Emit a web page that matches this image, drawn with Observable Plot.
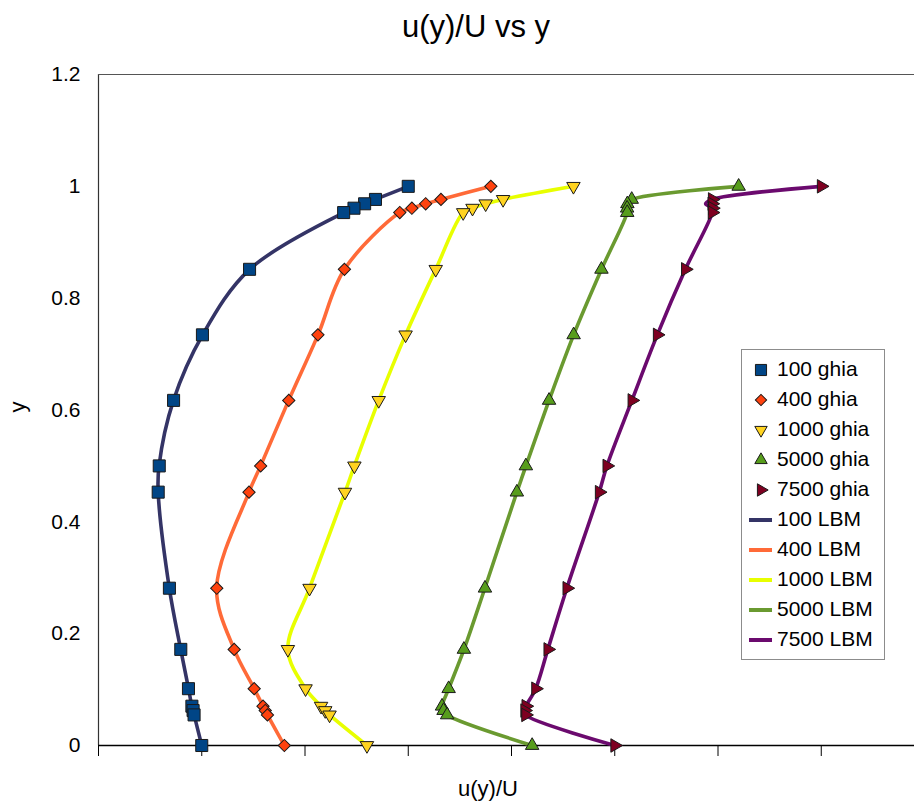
<!DOCTYPE html>
<html><head><meta charset="utf-8">
<script src="https://cdn.jsdelivr.net/npm/d3@7"></script>
<script src="https://cdn.jsdelivr.net/npm/@observablehq/plot@0.6"></script>
<style>
body{margin:0;background:#fff;font-family:"Liberation Sans",Arial,sans-serif;}
#wrap{position:relative;width:914px;height:804px;overflow:hidden;background:#fff;}
#wrap svg.plot{position:absolute;left:0;top:0;}
.lab{position:absolute;color:#000;white-space:nowrap;}
#legend{position:absolute;left:741px;top:349px;width:144px;height:311px;border:1px solid #8c8c8c;background:#fff;box-sizing:border-box;}
</style></head><body><div id="wrap"></div>
<script>
// y positions (shared)
const yVals = [1, 0.9766, 0.9688, 0.9609, 0.9531, 0.8516, 0.7344, 0.6172, 0.5, 0.4531, 0.2813, 0.1719, 0.1016, 0.0703, 0.0625, 0.0547, 0];
// plotted u(y)/U values (as drawn, each series shifted on the chart)
const ghia100  = [1, 0.84123, 0.78871, 0.73722, 0.68717, 0.23151, 0.00332, -0.13641, -0.20581, -0.21090, -0.15662, -0.10150, -0.06434, -0.04775, -0.04192, -0.03717, 0];
const ghia400  = [1.4, 1.15837, 1.08439, 1.01756, 0.95892, 0.69093, 0.56256, 0.42135, 0.28523, 0.22881, 0.07274, 0.15701, 0.25388, 0.29662, 0.30734, 0.31814, 0.4];
const ghia1000 = [1.8, 1.45928, 1.37492, 1.31117, 1.26604, 1.13304, 0.98719, 0.85702, 0.73920, 0.69352, 0.52195, 0.41711, 0.50270, 0.57780, 0.59804, 0.61891, 0.8];
const ghia5000 = [2.6, 2.08223, 2.06120, 2.05992, 2.06036, 1.93556, 1.80087, 1.68183, 1.56961, 1.52596, 1.37145, 1.26950, 1.19565, 1.16357, 1.17099, 1.18835, 1.6];
const ghia7500 = [3.0, 2.47244, 2.47048, 2.47323, 2.47167, 2.34228, 2.20591, 2.08342, 1.96200, 1.92497, 1.76824, 1.67607, 1.61676, 1.56975, 1.56410, 1.56846, 2.0];
const lbm100   = [1, 0.84, 0.79, 0.74, 0.69, 0.232, 0.004, -0.137, -0.207, -0.211, -0.157, -0.102, -0.064, -0.048, -0.042, -0.037, 0];
const lbm400   = [1.4, 1.158, 1.084, 1.018, 0.959, 0.691, 0.563, 0.421, 0.285, 0.229, 0.072, 0.157, 0.254, 0.297, 0.307, 0.318, 0.4];
const lbm1000  = [1.8, 1.459, 1.375, 1.311, 1.266, 1.133, 0.987, 0.857, 0.739, 0.694, 0.522, 0.417, 0.503, 0.578, 0.598, 0.619, 0.8];
const lbm5000  = [2.6, 2.082, 2.061, 2.06, 2.06, 1.936, 1.801, 1.682, 1.57, 1.526, 1.371, 1.27, 1.196, 1.164, 1.171, 1.188, 1.6];
const lbm7500  = [3.0, 2.472, 2.44, 2.47, 2.472, 2.342, 2.206, 2.083, 1.962, 1.925, 1.768, 1.676, 1.617, 1.57, 1.564, 1.568, 2.0];
const ghiaNames = ["100 ghia", "400 ghia", "1000 ghia", "5000 ghia", "7500 ghia"];
const lbmNames  = ["100 LBM", "400 LBM", "1000 LBM", "5000 LBM", "7500 LBM"];
const yTicks = [0, 0.2, 0.4, 0.6, 0.8, 1, 1.2];
const xTicks = [-0.5, 0, 0.5, 1, 1.5, 2, 2.5, 3, 3.5];

// styles
const ghiaFill = ["#004586", "#ff420e", "#ffd320", "#579d1c", "#7e0021"];
const ghiaSym  = [{symbol:"square", r:6.8, rotate:0}, {symbol:"square", r:4.9, rotate:45}, {symbol:"triangle", r:5, rotate:180}, {symbol:"triangle", r:5, rotate:0}, {symbol:"triangle", r:5, rotate:90}];
const lbmColor = ["#343466", "#ff6a38", "#e8ff00", "#6a9a30", "#6b0a6e"];

const ghiaSeries = [ghia100, ghia400, ghia1000, ghia5000, ghia7500];
const lbmSeries = [lbm100, lbm400, lbm1000, lbm5000, lbm7500];
const ghiaData = ghiaSeries.map(xs => xs.map((x, i) => ({x, y: yVals[i]})));
const lbmData = lbmSeries.map(xs => xs.map((x, i) => ({x, y: yVals[i]})));

const marks = [
  Plot.ruleX([-0.5], {y1: 0, y2: 1.2, stroke: "#333", strokeWidth: 1.2}),
  Plot.ruleY([1.2], {x1: -0.5, x2: 3.5, stroke: "#555", strokeWidth: 1.2}),
  Plot.axisY({ticks: yTicks, tickSize: 0, tickPadding: 18, tickFormat: d => String(+d.toFixed(1)), label: null, fill: "#000"}),
  Plot.axisX({ticks: xTicks, tickSize: 11, tickFormat: () => "", label: null, stroke: "#000"}),
  Plot.ruleY([0], {x1: -0.5, x2: 3.5, stroke: "#000", strokeWidth: 1.3}),
];
lbmData.forEach((d, k) => marks.push(Plot.line(d, {x: "x", y: "y", stroke: lbmColor[k], strokeWidth: 3.6, curve: "catmull-rom"})));
ghiaData.forEach((d, k) => marks.push(Plot.dot(d, {x: "x", y: "y", symbol: ghiaSym[k].symbol, r: ghiaSym[k].r, rotate: ghiaSym[k].rotate, fill: ghiaFill[k], stroke: "#1a1a1a", strokeWidth: 1})));

const chart = Plot.plot({
  width: 914, height: 804,
  marginLeft: 98, marginRight: 0, marginTop: 74, marginBottom: 59,
  x: {domain: [-0.5, 3.5], range: [98, 924]},
  y: {domain: [0, 1.2], range: [745, 74]},
  style: {fontSize: "21px", fontFamily: '"Liberation Sans", Arial, sans-serif', background: "transparent", overflow: "visible"},
  marks
});
chart.classList.add("plot");
const wrap = document.getElementById("wrap");
wrap.appendChild(chart);

function label(text, css) {
  const d = document.createElement("div");
  d.className = "lab"; d.textContent = text;
  Object.assign(d.style, css);
  wrap.appendChild(d);
  return d;
}
label("u(y)/U vs y", {left: "0px", width: "952px", textAlign: "center", top: "9px", fontSize: "31px"});
label("u(y)/U", {left: "388px", width: "200px", textAlign: "center", top: "776px", fontSize: "22px"});
label("y", {left: "8px", width: "20px", textAlign: "center", top: "394px", fontSize: "22px", transform: "rotate(-90deg)"});

// legend
const leg = document.createElement("div"); leg.id = "legend"; wrap.appendChild(leg);
const symType = {square: d3.symbolSquare, triangle: d3.symbolTriangle};
const rows = [...ghiaNames.map((n, k) => ({n, k, g: true})), ...lbmNames.map((n, k) => ({n, k, g: false}))];
rows.forEach((row, i) => {
  const cy = 370 + 30 * i;
  const ns = "http://www.w3.org/2000/svg";
  const s = document.createElementNS(ns, "svg");
  s.setAttribute("width", 32); s.setAttribute("height", 30);
  s.style.position = "absolute"; s.style.left = "745px"; s.style.top = (cy - 15) + "px";
  if (row.g) {
    const sy = ghiaSym[row.k];
    const p = document.createElementNS(ns, "path");
    p.setAttribute("d", d3.symbol(symType[sy.symbol], Math.PI * sy.r * sy.r * 0.85)());
    p.setAttribute("transform", `translate(16,15) rotate(${sy.rotate})`);
    p.setAttribute("fill", ghiaFill[row.k]); p.setAttribute("stroke", "#1a1a1a");
    s.appendChild(p);
  } else {
    const l = document.createElementNS(ns, "line");
    l.setAttribute("x1", 4); l.setAttribute("x2", 27); l.setAttribute("y1", 15); l.setAttribute("y2", 15);
    l.setAttribute("stroke", lbmColor[row.k]); l.setAttribute("stroke-width", 4);
    s.appendChild(l);
  }
  wrap.appendChild(s);
  label(row.n, {left: "777px", top: (cy - 13) + "px", fontSize: "21px", lineHeight: "24px"});
});
</script></body></html>
